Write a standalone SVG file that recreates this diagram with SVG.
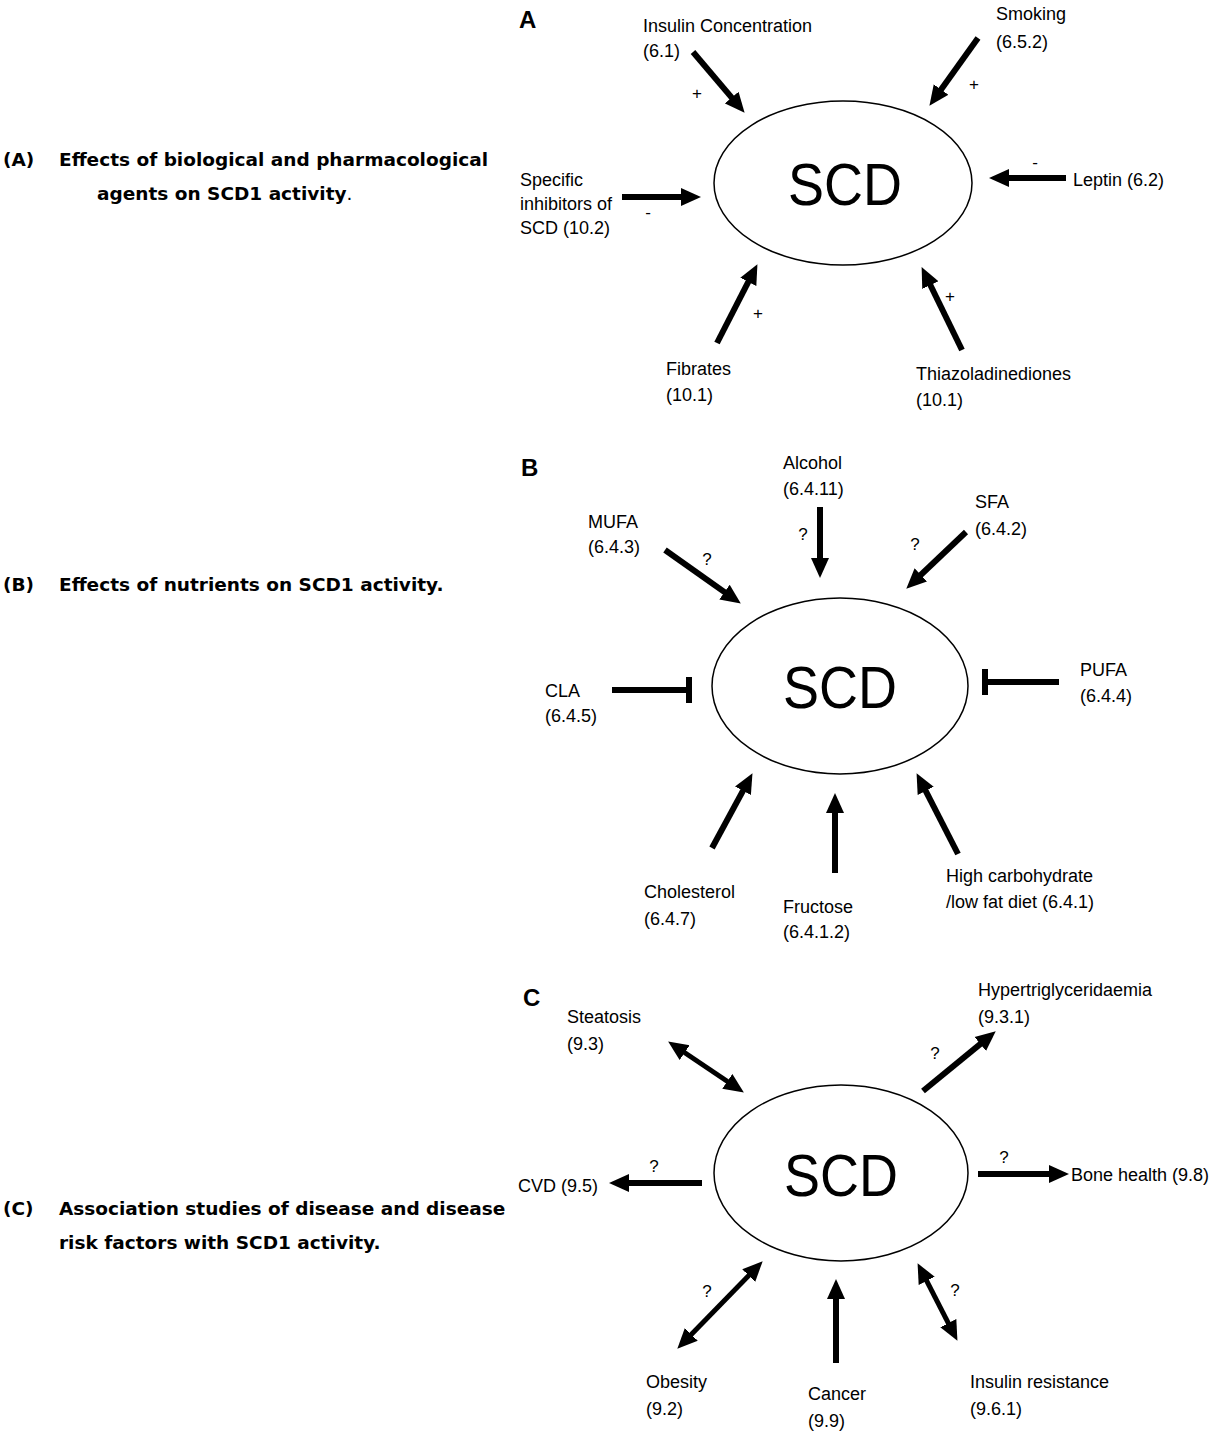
<svg xmlns="http://www.w3.org/2000/svg" width="1210" height="1438" viewBox="0 0 1210 1438">
<style>
.cap{font-family:"DejaVu Sans",Verdana,sans-serif;font-weight:bold;font-size:18.5px;fill:#000}
.lbl{font-family:"Liberation Sans",Arial,sans-serif;font-size:18px;fill:#000}
.sgn{font-family:"Liberation Sans",Arial,sans-serif;font-size:17px;fill:#000}
.pl{font-family:"Liberation Sans",Arial,sans-serif;font-weight:bold;font-size:24px;fill:#000}
.scd{font-family:"Liberation Sans",Arial,sans-serif;font-size:60px;fill:#000}
.ell{fill:#fff;stroke:#000;stroke-width:1.5}
.arr{stroke:#000;stroke-width:6;fill:none;marker-end:url(#ah)}
.dbl{stroke:#000;stroke-width:5;fill:none;marker-end:url(#ah);marker-start:url(#ah)}
.inh{stroke:#000;stroke-width:6;fill:none}
</style>
<defs>
<marker id="ah" markerUnits="userSpaceOnUse" markerWidth="21" markerHeight="19" refX="7" refY="9" orient="auto-start-reverse" viewBox="0 0 21 18">
<path d="M0,0 L20,9 L0,18 z" fill="#000"/>
</marker>
</defs>
<rect width="1210" height="1438" fill="#fff"/>

<g id="captions">
<text class="cap" x="3" y="166">(A)</text>
<text class="cap" x="59" y="166">Effects of biological and pharmacological</text>
<text class="cap" x="97" y="200">agents on SCD1 activity<tspan font-weight="normal">.</tspan></text>
<text class="cap" x="3" y="591">(B)</text>
<text class="cap" x="59" y="591">Effects of nutrients on SCD1 activity.</text>
<text class="cap" x="3" y="1215">(C)</text>
<text class="cap" x="59" y="1215">Association studies of disease and disease</text>
<text class="cap" x="59" y="1249">risk factors with SCD1 activity.</text>
</g>

<g id="panel-labels">
<text class="pl" x="519" y="28">A</text>
<text class="pl" x="521" y="476">B</text>
<text class="pl" x="523" y="1006">C</text>
</g>

<g id="scd-a"><ellipse class="ell" cx="843" cy="183" rx="129" ry="82"/><text class="scd" x="845" y="205" text-anchor="middle" textLength="114" lengthAdjust="spacingAndGlyphs">SCD</text></g>
<g id="scd-b"><ellipse class="ell" cx="840" cy="686" rx="128" ry="88"/><text class="scd" x="840" y="708" text-anchor="middle" textLength="114" lengthAdjust="spacingAndGlyphs">SCD</text></g>
<g id="scd-c"><ellipse class="ell" cx="841" cy="1173" rx="127" ry="88"/><text class="scd" x="841" y="1196" text-anchor="middle" textLength="114" lengthAdjust="spacingAndGlyphs">SCD</text></g>

<g id="insulin"><text class="lbl" x="643" y="32">Insulin Concentration</text><text class="lbl" x="643" y="57">(6.1)</text></g>
<g id="smoking"><text class="lbl" x="996" y="20">Smoking</text><text class="lbl" x="996" y="48">(6.5.2)</text></g>
<g id="inhibitors"><text class="lbl" x="520" y="186">Specific</text><text class="lbl" x="520" y="210">inhibitors of</text><text class="lbl" x="520" y="234">SCD (10.2)</text></g>
<g id="leptin"><text class="lbl" x="1073" y="186">Leptin (6.2)</text></g>
<g id="fibrates"><text class="lbl" x="666" y="375">Fibrates</text><text class="lbl" x="666" y="401">(10.1)</text></g>
<g id="thiazo"><text class="lbl" x="916" y="380">Thiazoladinediones</text><text class="lbl" x="916" y="406">(10.1)</text></g>

<g id="alcohol"><text class="lbl" x="783" y="469">Alcohol</text><text class="lbl" x="783" y="495">(6.4.11)</text></g>
<g id="sfa"><text class="lbl" x="975" y="508">SFA</text><text class="lbl" x="975" y="535">(6.4.2)</text></g>
<g id="mufa"><text class="lbl" x="588" y="528">MUFA</text><text class="lbl" x="588" y="553">(6.4.3)</text></g>
<g id="cla"><text class="lbl" x="545" y="697">CLA</text><text class="lbl" x="545" y="722">(6.4.5)</text></g>
<g id="pufa"><text class="lbl" x="1080" y="676">PUFA</text><text class="lbl" x="1080" y="702">(6.4.4)</text></g>
<g id="cholesterol"><text class="lbl" x="644" y="898">Cholesterol</text><text class="lbl" x="644" y="925">(6.4.7)</text></g>
<g id="fructose"><text class="lbl" x="783" y="913">Fructose</text><text class="lbl" x="783" y="938">(6.4.1.2)</text></g>
<g id="highcarb"><text class="lbl" x="946" y="882">High carbohydrate</text><text class="lbl" x="946" y="908">/low fat diet (6.4.1)</text></g>

<g id="steatosis"><text class="lbl" x="567" y="1023">Steatosis</text><text class="lbl" x="567" y="1050">(9.3)</text></g>
<g id="hypertg"><text class="lbl" x="978" y="996">Hypertriglyceridaemia</text><text class="lbl" x="978" y="1023">(9.3.1)</text></g>
<g id="cvd"><text class="lbl" x="518" y="1192">CVD (9.5)</text></g>
<g id="bone"><text class="lbl" x="1071" y="1181">Bone health (9.8)</text></g>
<g id="obesity"><text class="lbl" x="646" y="1388">Obesity</text><text class="lbl" x="646" y="1415">(9.2)</text></g>
<g id="cancer"><text class="lbl" x="808" y="1400">Cancer</text><text class="lbl" x="808" y="1427">(9.9)</text></g>
<g id="insres"><text class="lbl" x="970" y="1388">Insulin resistance</text><text class="lbl" x="970" y="1415">(9.6.1)</text></g>

<g id="connectors">
<path class="arr" d="M693,52 L736.2,102.9"/>
<path class="arr" d="M978,38 L937,95.2"/>
<path class="arr" d="M622,197 L688,197"/>
<path class="arr" d="M1066,178 L1002,178"/>
<path class="arr" d="M717,343 L751.5,275.7"/>
<path class="arr" d="M962,350 L927.3,278.8"/>
<path class="arr" d="M820,507 L820,565"/>
<path class="arr" d="M966,532 L915.7,579.7"/>
<path class="arr" d="M665,550 L730.2,596.1"/>
<path class="arr" d="M712,848 L746.3,784.6"/>
<path class="arr" d="M835,873 L835,806"/>
<path class="arr" d="M958,854 L922.5,784.7"/>
<path class="inh" d="M612,690 L687,690 M689,677 L689,703"/>
<path class="inh" d="M1059,682 L987,682 M985,669 L985,695"/>
<path class="dbl" d="M678.9,1048.7 L733.1,1085.3"/>
<path class="arr" d="M923,1091 L985.7,1039.6"/>
<path class="arr" d="M702,1183 L622,1183"/>
<path class="arr" d="M978,1174 L1056,1174"/>
<path class="dbl" d="M686.4,1339.4 L753.6,1270.6"/>
<path class="arr" d="M836,1363 L836,1292"/>
<path class="dbl" d="M951.5,1329.3 L923.5,1274.7"/>
</g>

<g id="signs">
<text class="sgn" x="697" y="99" text-anchor="middle">+</text>
<text class="sgn" x="974" y="90" text-anchor="middle">+</text>
<text class="sgn" x="648" y="218" text-anchor="middle">-</text>
<text class="sgn" x="1035" y="168" text-anchor="middle">-</text>
<text class="sgn" x="758" y="319" text-anchor="middle">+</text>
<text class="sgn" x="950" y="302" text-anchor="middle">+</text>
<text class="sgn" x="803" y="540" text-anchor="middle">?</text>
<text class="sgn" x="915" y="550" text-anchor="middle">?</text>
<text class="sgn" x="707" y="565" text-anchor="middle">?</text>
<text class="sgn" x="935" y="1059" text-anchor="middle">?</text>
<text class="sgn" x="654" y="1172" text-anchor="middle">?</text>
<text class="sgn" x="1004" y="1163" text-anchor="middle">?</text>
<text class="sgn" x="707" y="1297" text-anchor="middle">?</text>
<text class="sgn" x="955" y="1296" text-anchor="middle">?</text>
</g>
</svg>
